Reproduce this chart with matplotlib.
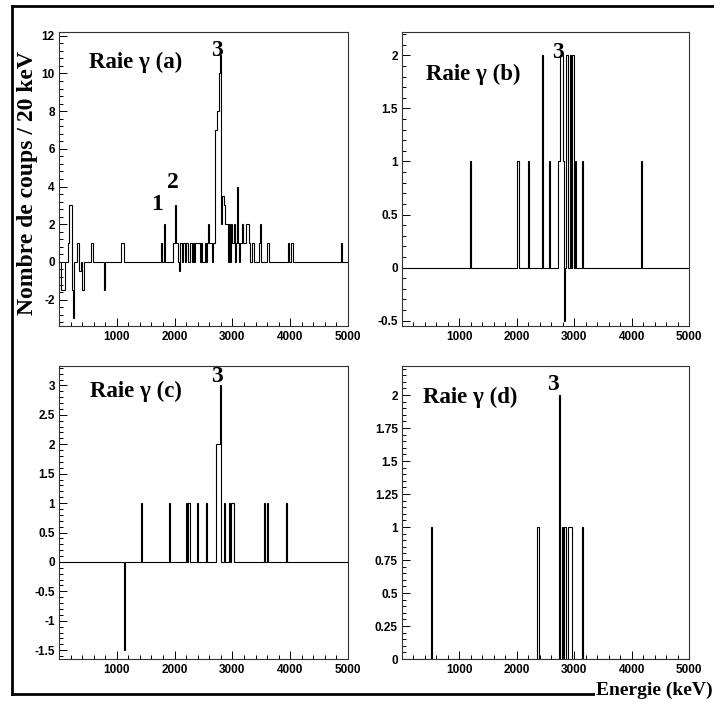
import numpy as np
import matplotlib.pyplot as plt
from matplotlib.lines import Line2D
from matplotlib.ticker import MultipleLocator, FixedLocator, FuncFormatter

# histogram bins: 20 keV from 0 to 5000 keV, only the non-empty bins are listed
bin_width = 20
e_max = 5000

# panel (a) - bin start (keV) and counts
a_energy = [40, 60, 80, 160, 180, 200, 220, 240, 320, 340, 360, 400, 420, 560, 780,
            1080, 1100, 1760, 1820, 1980, 2000, 2020, 2040, 2080, 2100, 2140, 2160,
            2200, 2220, 2260, 2280, 2320, 2360, 2380, 2400, 2420, 2460, 2520, 2560,
            2580, 2600, 2620, 2660, 2680, 2700, 2720, 2740, 2760, 2780, 2800, 2820,
            2840, 2860, 2880, 2900, 2940, 2980, 3000, 3020, 3060, 3080, 3100, 3140,
            3160, 3180, 3200, 3220, 3240, 3260, 3280, 3340, 3360, 3460, 3480, 3600,
            3620, 3960, 4020, 4880]
a_counts = [-1.5, -1.5, -1.5, 1, 3, 3, -1.5, -3, 1, -0.5, -0.5, -1.5, -1.5, 1, -1.5,
            1, 1, 1, 2, 1, 3, 1, 1, -0.5, 1, 1, 1,
            1, 1, 1, 1, 1, 1, 1, 1, 1, 1, 1, 1,
            2, 1, 1, 1, 1, 7, 7, 8, 10, 11, 2, 3.5,
            3.5, 3, 2, 2, 2, 2, 1, 2, 1, 4, 1, 1,
            2, 1, 1, 1, 2, 2, 1, 1, 1, 1, 2, 1,
            1, 1, 1, 1]

# panel (b)
b_energy = [1180, 2000, 2020, 2200, 2440, 2560, 2720, 2740, 2760, 2780, 2800, 2820,
            2860, 2880, 2920, 2960, 2980, 3020, 3140, 4160]
b_counts = [1, 1, 1, 1, 2, 1, 1, 1, 2, 2, 1, -0.5,
            2, 2, 2, 2, 2, 1, 1, 1]

# panel (c)
c_energy = [1120, 1420, 1900, 2200, 2240, 2380, 2540, 2720, 2740, 2760, 2780,
            2860, 2940, 2980, 3000, 3540, 3600, 3920]
c_counts = [-1.5, 1, 1, 1, 1, 1, 1, 2, 2, 2, 3,
            1, 1, 1, 1, 1, 1, 1]

# panel (d)
d_energy = [500, 2360, 2740, 2780, 2820, 2840, 2900, 2920, 2940, 3140]
d_counts = [1, 1, 2, 1, 1, 1, 1, 1, 1, 1]

y_limits = [(-3.4, 12.2), (-0.55, 2.22), (-1.65, 3.33), (0, 2.22)]
y_major = [2, 0.5, 0.5, 0.25]
y_minor = [0.4, 0.1, 0.1, 0.05]

W, H = 714, 702
fig = plt.figure(figsize=(W / 100, H / 100), dpi=100)

def fx(x):
    return x / W

def fy(y):
    return 1 - y / H

# axes boxes in pixels: left, top, right, bottom
boxes = [(59, 32, 348, 326), (402, 32, 689, 326),
         (59, 366, 348, 659), (402, 366, 689, 659)]

edges = np.arange(0, e_max + bin_width, bin_width)
data = [(a_energy, a_counts), (b_energy, b_counts),
        (c_energy, c_counts), (d_energy, d_counts)]

serif = dict(family='Liberation Serif', weight='bold')

for i, (energy, counts) in enumerate(data):
    l, t, r, b = boxes[i]
    ax = fig.add_axes([fx(l), fy(b), (r - l) / W, (b - t) / H])
    hist = np.zeros(len(edges) - 1)
    for e, c in zip(energy, counts):
        hist[e // bin_width] = c
    ax.stairs(hist, edges, baseline=None, color='black', lw=0.8)

    ax.set_xlim(0, e_max)
    ax.set_ylim(*y_limits[i])
    ax.xaxis.set_major_locator(FixedLocator([1000, 2000, 3000, 4000, 5000]))
    ax.xaxis.set_minor_locator(MultipleLocator(200))
    ax.yaxis.set_major_locator(MultipleLocator(y_major[i]))
    ax.yaxis.set_minor_locator(MultipleLocator(y_minor[i]))
    ax.yaxis.set_major_formatter(FuncFormatter(lambda v, p: f"{v:g}"))
    ax.tick_params(which='both', direction='in', top=False, right=False, width=0.7)
    ax.tick_params(which='major', length=5.5)
    ax.tick_params(which='minor', length=3)
    ax.tick_params(axis='x', pad=3.5)
    ax.tick_params(axis='y', pad=3)
    for lab in ax.get_xticklabels() + ax.get_yticklabels():
        lab.set_fontfamily('Liberation Sans')
        lab.set_fontweight('bold')
        lab.set_fontsize(8.5)
    for sp in ax.spines.values():
        sp.set_linewidth(0.8)
        sp.set_color('#333333')

# panel titles and peak labels
fig.text(fx(136), fy(62), 'Raie γ (a)', ha='center', va='center', fontsize=16.5, **serif)
fig.text(fx(473), fy(74), 'Raie γ (b)', ha='center', va='center', fontsize=16.5, **serif)
fig.text(fx(136), fy(391), 'Raie γ (c)', ha='center', va='center', fontsize=16.5, **serif)
fig.text(fx(470), fy(397), 'Raie γ (d)', ha='center', va='center', fontsize=16.5, **serif)

fig.text(fx(217), fy(50), '3', ha='center', va='center', fontsize=17, **serif)
fig.text(fx(157), fy(204), '1', ha='center', va='center', fontsize=17, **serif)
fig.text(fx(173), fy(182), '2', ha='center', va='center', fontsize=17, **serif)
fig.text(fx(558), fy(52), '3', ha='center', va='center', fontsize=17, **serif)
fig.text(fx(217), fy(376), '3', ha='center', va='center', fontsize=17, **serif)
fig.text(fx(553), fy(385), '3', ha='center', va='center', fontsize=17, **serif)

fig.text(fx(28), fy(183), 'Nombre de coups / 20 keV', rotation=90,
         ha='center', va='center', fontsize=17, **serif)

# outer frame
for xs, ys in [((12, 714), (6, 6)), ((12, 12), (6, 694)), ((12, 714), (694, 694))]:
    fig.add_artist(Line2D([fx(x) for x in xs], [fy(y) for y in ys],
                          color='black', lw=2, transform=fig.transFigure))

fig.text(fx(713), fy(690), 'Energie (keV)', ha='right', va='center', fontsize=14,
         bbox=dict(facecolor='white', edgecolor='none', pad=1), zorder=5, **serif)

fig.savefig('out.png', dpi=100)
